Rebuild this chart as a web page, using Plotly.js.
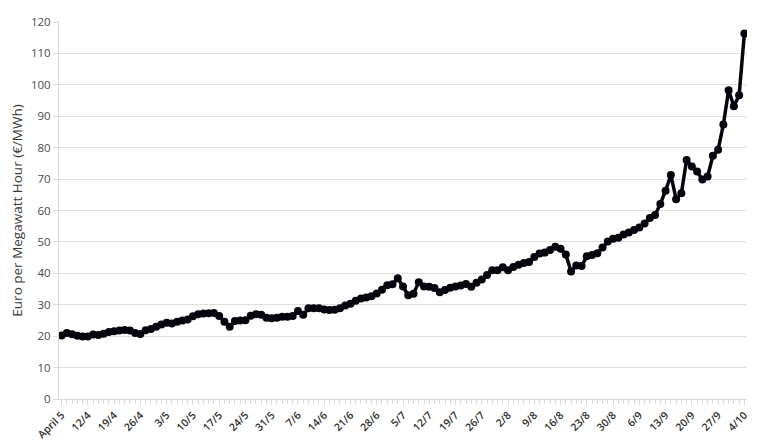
<!DOCTYPE html>
<html>
<head>
<meta charset="utf-8">
<script src="https://cdn.plot.ly/plotly-3.0.1.min.js"></script>
<style>html,body{margin:0;padding:0;background:#fff;}#chart{width:771px;height:443px;}</style>
</head>
<body>
<div id="chart"></div>
<script>
// Daily (business-day) electricity price, Euro per MWh, 5 April - 4 October
const prices = [
  20.2, 21.0, 20.6, 20.1, 19.9, 19.9, 20.5, 20.4, 20.8, 21.3,
  21.6, 21.8, 22.0, 21.8, 21.0, 20.7, 21.9, 22.3, 23.0, 23.7,
  24.3, 24.0, 24.6, 25.0, 25.3, 26.3, 27.0, 27.2, 27.3, 27.4,
  26.4, 24.6, 23.0, 24.8, 25.0, 25.1, 26.5, 27.0, 26.8, 25.9,
  25.7, 25.9, 26.2, 26.2, 26.4, 28.0, 26.8, 28.9, 28.9, 28.9,
  28.5, 28.3, 28.4, 28.9, 29.8, 30.3, 31.3, 32.0, 32.3, 32.7,
  33.6, 34.8, 36.2, 36.5, 38.4, 35.8, 33.0, 33.5, 37.2, 35.8,
  35.7, 35.3, 34.0, 34.7, 35.4, 35.8, 36.1, 36.6, 35.7, 37.0,
  38.0, 39.5, 41.0, 41.0, 41.9, 41.0, 42.0, 42.7, 43.3, 43.6,
  45.2, 46.3, 46.6, 47.4, 48.5, 47.8, 46.0, 40.6, 42.5, 42.3,
  45.4, 45.8, 46.4, 48.2, 50.1, 51.0, 51.3, 52.4, 53.0, 53.8,
  54.6, 55.9, 57.6, 58.6, 62.1, 66.3, 71.3, 63.6, 65.5, 76.1,
  74.0, 72.4, 69.9, 70.8, 77.4, 79.3, 87.4, 98.3, 93.2, 96.7,
  116.3
];
const dayIndex = prices.map((_, i) => i);
const weekLabels = [
  "April 5", "12/4", "19/4", "26/4", "3/5", "10/5", "17/5", "24/5", "31/5",
  "7/6", "14/6", "21/6", "28/6", "5/7", "12/7", "19/7", "26/7", "2/8",
  "9/8", "16/8", "23/8", "30/8", "6/9", "13/9", "20/9", "27/9", "4/10"
];
const daysPerWeek = 5;
const weekTickVals = weekLabels.map((_, k) => k * daysPerWeek);
const yTicks = [0, 10, 20, 30, 40, 50, 60, 70, 80, 90, 100, 110, 120];

const trace = {
  x: dayIndex,
  y: prices,
  type: 'scatter',
  mode: 'lines+markers',
  line: {color: '#05060d', width: 3.5},
  marker: {color: '#05060d', size: 8},
  hoverinfo: 'y'
};

const layout = {
  width: 771,
  height: 443,
  margin: {l: 59, r: 24, t: 22, b: 44, pad: 0},
  paper_bgcolor: '#ffffff',
  plot_bgcolor: '#ffffff',
  showlegend: false,
  font: {family: 'Open Sans, Liberation Sans, sans-serif', color: '#595959'},
  xaxis: {
    range: [-0.5, prices.length - 0.5],
    tickmode: 'array',
    tickvals: weekTickVals,
    ticktext: weekLabels,
    tickangle: -45,
    tickfont: {size: 10.5, color: '#2e2e2e', family: 'Open Sans, sans-serif', weight: 600},
    ticks: 'outside',
    ticklen: 5,
    tickcolor: '#d9d9d9',
    minor: {dtick: 1, tick0: 0, ticks: 'outside', ticklen: 4, tickcolor: '#d9d9d9', showgrid: false},
    showgrid: false,
    zeroline: false,
    showline: true,
    linecolor: '#d9d9d9',
    linewidth: 1,
    fixedrange: true
  },
  yaxis: {
    range: [0, 120],
    tickmode: 'array',
    tickvals: yTicks,
    ticks: 'outside',
    ticklen: 5,
    tickcolor: '#d9d9d9',
    tickfont: {size: 11.5, color: '#4a4a4a'},
    showgrid: true,
    gridcolor: '#e3dede',
    gridwidth: 1,
    zeroline: false,
    showline: true,
    linecolor: '#d9d9d9',
    linewidth: 1,
    title: {text: 'Euro per Megawatt Hour (€/MWh)', font: {size: 13.5, color: '#3a3a3a'}, standoff: 5},
    fixedrange: true
  }
};

Plotly.newPlot('chart', [trace], layout, {displayModeBar: false, staticPlot: true});
</script>
</body>
</html>
